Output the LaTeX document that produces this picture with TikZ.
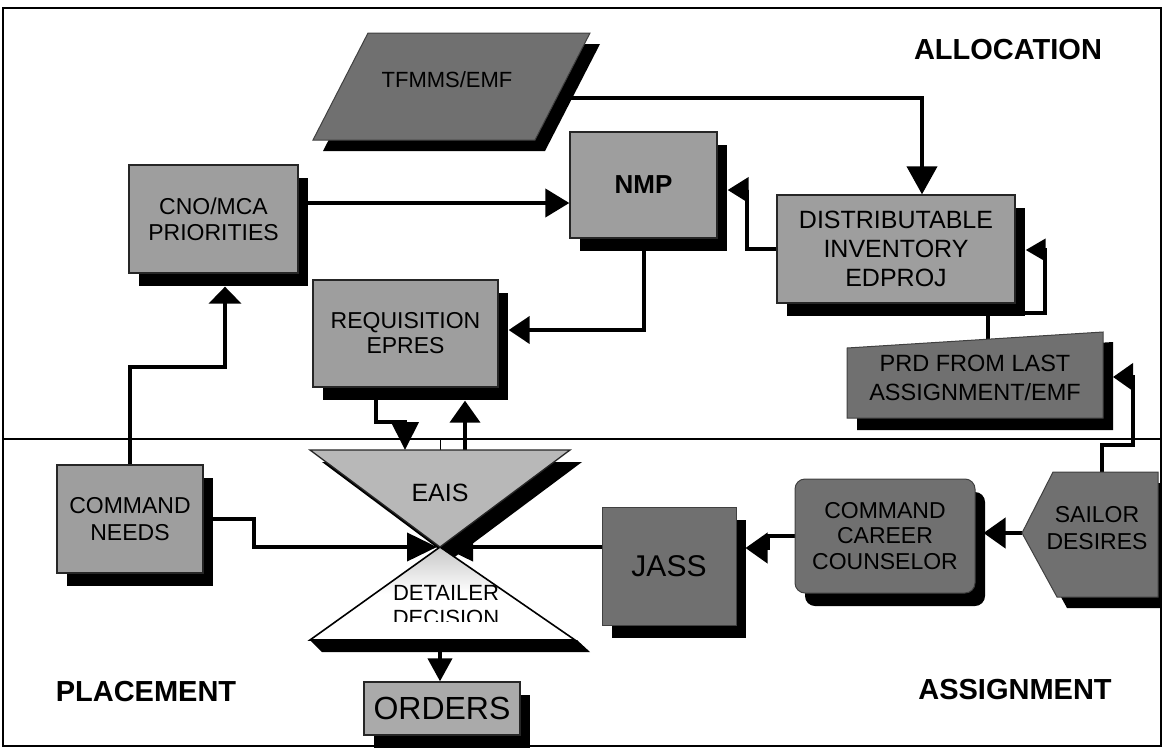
\documentclass[tikz,border=0pt]{standalone}
\usepackage{fontspec}
\setmainfont{Liberation Sans}
\usetikzlibrary{arrows.meta,calc,shadows}

\definecolor{boxgray}{RGB}{158,158,158}
\definecolor{eaisgray}{RGB}{184,184,184}
\definecolor{ordergray}{RGB}{170,170,170}
\definecolor{darkfill}{RGB}{112,112,112}

\pgfdeclarelayer{background}
\pgfsetlayers{background,main}

\begin{document}
\begin{tikzpicture}[x=1pt,y=-1pt,
  boxshadow/.style={general shadow={fill=black,shadow xshift=10pt,shadow yshift=-13pt}},
  lightbox/.style={boxshadow,draw=black!85,line width=1.3pt,fill=boxgray,inner sep=0pt,
    align=center,font=\fontsize{23}{26}\selectfont},
  darkbox/.style={boxshadow,draw=black!75,line width=1pt,fill=darkfill,inner sep=0pt,
    align=center,font=\fontsize{23}{26}\selectfont},
  shapetext/.style={inner sep=0pt,align=center,font=\fontsize{23}{27}\selectfont},
  section/.style={inner sep=0pt,font=\bfseries\fontsize{29}{32}\selectfont},
  conn/.style 2 args={line width=4pt,line join=miter,-{Triangle[length=#1,width=#2]}},
]
\useasboundingbox (0,0) rectangle (1163,750);

% ---------- boxes ----------
\node[lightbox,minimum width=169pt,minimum height=108pt] (cno) at (213.5,219)
  {CNO/MCA\\PRIORITIES};
\node[lightbox,minimum width=147pt,minimum height=106pt,
  font=\bfseries\fontsize{26}{28}\selectfont] (nmp) at (643.5,185) {NMP};
\node[lightbox,minimum width=238pt,minimum height=108pt,
  font=\fontsize{25}{29}\selectfont] (dist) at (896,249)
  {DISTRIBUTABLE\\INVENTORY\\EDPROJ};
\node[lightbox,minimum width=185pt,minimum height=107pt,
  font=\fontsize{23}{25}\selectfont] (req) at (405.5,333.5)
  {REQUISITION\\EPRES};
\node[lightbox,minimum width=146pt,minimum height=108pt,
  font=\fontsize{23}{27}\selectfont] (cmdneeds) at (130,519)
  {COMMAND\\NEEDS};
\node[lightbox,fill=ordergray,minimum width=156pt,minimum height=53pt,
  font=\fontsize{32}{34}\selectfont] (orders) at (442,708.5) {ORDERS};
\node[darkbox,minimum width=134pt,minimum height=118pt,
  font=\fontsize{30}{32}\selectfont] (jass) at (669,566) {JASS};
\node[darkbox,rounded corners=10pt,minimum width=180pt,minimum height=114pt,
  font=\fontsize{23}{25.5}\selectfont] (ccc) at (885,536)
  {COMMAND\\CAREER\\COUNSELOR};

% ---------- TFMMS/EMF data store ----------
\fill[black] (378,44) -- (600,44) -- (545,151) -- (323,151) -- cycle;
\draw[fill=darkfill,draw=black!75,line width=1pt]
  (368,33) -- (590,33) -- (535,140) -- (313,140) -- cycle;
\coordinate (tfmmsR) at (556,98);
\node[shapetext,font=\fontsize{22}{24}\selectfont] (tfmms) at (447,80) {TFMMS/EMF};

% ---------- PRD manual input ----------
\fill[black] (857,358) -- (1113,342) -- (1113,430) -- (857,430) -- cycle;
\draw[fill=darkfill,draw=black!75,line width=1pt]
  (847,348) -- (1103,332) -- (1103,418) -- (847,418) -- cycle;
\coordinate (prdTop) at (988,339);
\coordinate (prdR) at (1103,377);
\node[shapetext,font=\fontsize{23.5}{29}\selectfont] (prd) at (975,378)
  {PRD FROM LAST\\ASSIGNMENT/EMF};

% ---------- sailor desires ----------
\fill[black] (1032,544) -- (1063,483) -- (1161,483) -- (1161,608) -- (1067,608) -- cycle;
\draw[fill=darkfill,draw=black!75,line width=1pt]
  (1022,533) -- (1053,472) -- (1158,472) -- (1158,597) -- (1057,597) -- cycle;
\coordinate (sailorTip) at (1022,533);
\coordinate (sailorTop) at (1102,472);
\node[shapetext] (sailor) at (1097,528) {SAILOR\\DESIRES};

% ---------- EAIS / detailer decision hourglass ----------
\coordinate (eaisTop) at (440,450);
\coordinate (apex) at (440,547);
\coordinate (detBase) at (440,640);
\fill[black] (322,462) -- (582,462) -- (452,559) -- cycle;
\fill[black] (310,640) -- (577,640) -- (590,652) -- (322,652) -- cycle;
\draw[line width=1.6pt,top color=black!22,bottom color=white,middle color=white]
  (apex) -- (575,640) -- (310,640) -- cycle;
\draw[fill=eaisgray,draw=black!85,line width=1.3pt]
  (310,450) -- (570,450) -- (apex) -- cycle;
\node[shapetext,font=\fontsize{25}{27}\selectfont] (eais) at (440,493) {EAIS};
\begin{scope}
  \clip (300,560) rectangle (600,621);
  \node[shapetext,font=\fontsize{22}{25}\selectfont] (detailer) at (446,606)
    {DETAILER\\DECISION};
\end{scope}

% ---------- section titles ----------
\node[section] (allocation) at (1008,50) {ALLOCATION};
\node[section] (placement) at (146,692) {PLACEMENT};
\node[section] (assignment) at (1015,690) {ASSIGNMENT};

% ---------- connectors ----------
\begin{pgfonlayer}{background}
  \draw[line width=1.5pt] (3,439) -- (1161,439);
  \draw[line width=1pt] (eaisTop) -- ++(0,-11);
  \draw[conn={17pt}{32pt}] (cmdneeds.north) -- ++(0,-97) -| ($(cno.south)+(11.5,13)$);
  \draw[conn={24pt}{28pt}] ($(cno.east)+(0,-16)$) -- ($(nmp.west)+(0,18)$);
  \draw[conn={28pt}{30pt}] (tfmmsR) -| ($(dist.north)+(26,0)$);
  \draw[conn={21pt}{25pt}] (dist.west) -- ++(-29,0) |- ($(nmp.east)+(10,5)$);
  \draw[conn={21pt}{27pt}] (nmp.south) |- ($(req.east)+(10,-3.5)$);
  \draw[conn={28pt}{27pt}] ($(req.south)+(-30,0)$) -- ++(0,34) -| ($(eaisTop)+(-35,0)$);
  \draw[conn={22pt}{30pt}] ($(eaisTop)+(25,0)$) -- ($(req.south)+(59.5,13)$);
  \draw[conn={30pt}{28pt}] (cmdneeds.east) -- ++(50,0) |- ($(apex)+(-3,0)$);
  \draw[conn={30pt}{28pt}] ($(jass.west)+(0,-19)$) -- ($(apex)+(3,0)$);
  \draw[conn={22pt}{30pt}] (ccc.west) -- ++(-27,0) |- ($(jass.east)+(9,-18)$);
  \draw[conn={22pt}{30pt}] (sailorTip) -- ($(ccc.east)+(8,-3)$);
  \draw[conn={20pt}{27pt}] (sailorTop) -- ++(0,-27) -- ++(31,0) |- ($(prdR)+(10,0)$);
  \draw[conn={20pt}{22pt}] (prdTop) -- ++(0,-26) -- ++(57,0) |- ($(dist.east)+(10,1)$);
  \draw[conn={23pt}{24pt}] (detBase) -- ($(orders.north)+(-2,0)$);
\end{pgfonlayer}

% ---------- frame ----------
\draw[line width=2pt] (3,8) rectangle (1161,746);
\end{tikzpicture}
\end{document}
